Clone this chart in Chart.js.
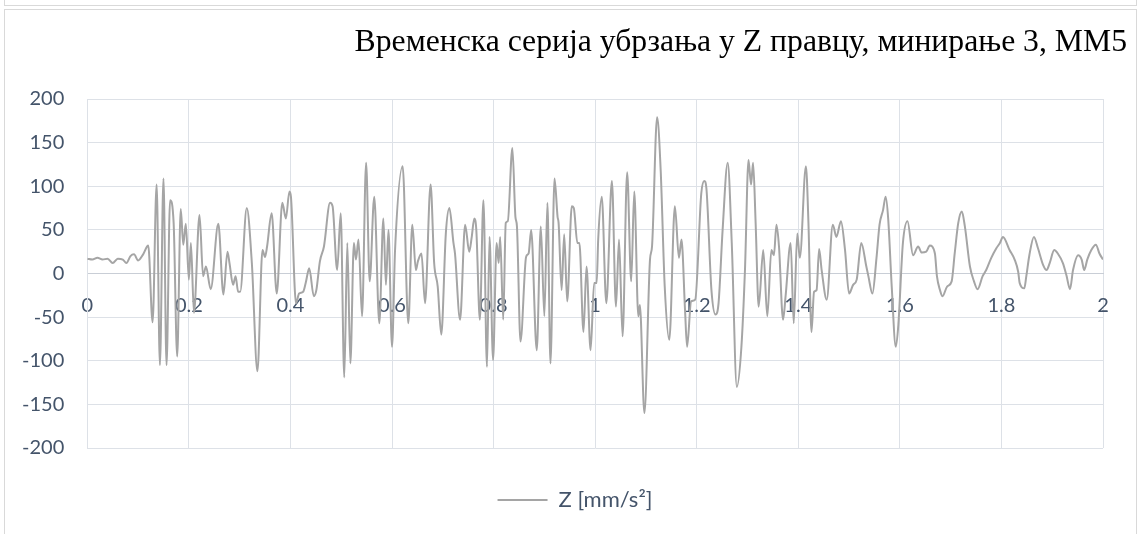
<!DOCTYPE html>
<html>
<head>
<meta charset="utf-8">
<script src="https://cdn.jsdelivr.net/npm/chart.js@4.4.1/dist/chart.umd.min.js"></script>
<style>
  html, body { margin: 0; padding: 0; background: #fff; }
  #wrap { position: relative; width: 1138px; height: 534px; overflow: hidden; }
  #topbox { position: absolute; left: 4px; top: -10px; width: 1131px; height: 14px; border: 1px solid #d9d9d9; }
  #frame { position: absolute; left: 4px; top: 9px; width: 1131px; height: 540px; border: 1px solid #d9d9d9; }
  canvas { position: absolute; left: 0; top: 0; }
</style>
</head>
<body>
<div id="wrap">
  <div id="topbox"></div>
  <div id="frame"></div>
  <canvas id="chart" width="1138" height="534"></canvas>
</div>
<script>
const chartTitle = "Временска серија убрзања у Z правцу, минирање 3, ММ5";
const seriesName = "Z [mm/s²]";

// time [s] of each read point (peaks / troughs of the trace)
const times = [
  0, 0.01, 0.02, 0.03, 0.04, 0.05, 0.06, 0.07, 0.077, 0.085, 0.092, 0.1, 0.11, 0.12,
  0.1286, 0.1365, 0.143, 0.150, 0.156, 0.163, 0.170, 0.177, 0.184, 0.189, 0.194, 0.200,
  0.204, 0.210, 0.221, 0.228, 0.2336, 0.243, 0.258, 0.268, 0.276, 0.280, 0.287, 0.292,
  0.297, 0.301, 0.314, 0.324, 0.335,
  0.345, 0.350, 0.354, 0.363, 0.373, 0.384, 0.391, 0.398, 0.401, 0.411, 0.417, 0.425,
  0.430, 0.437, 0.446, 0.451, 0.458, 0.466, 0.478, 0.483, 0.492, 0.499, 0.506, 0.512,
  0.518, 0.525, 0.529, 0.534, 0.541, 0.549, 0.556, 0.565, 0.575, 0.583, 0.588, 0.593,
  0.600, 0.606, 0.621, 0.632, 0.640, 0.647, 0.651, 0.658, 0.665, 0.676,
  0.683, 0.690, 0.697, 0.706, 0.713, 0.721, 0.724, 0.734, 0.744, 0.752, 0.757, 0.762,
  0.766, 0.773, 0.780, 0.787, 0.792, 0.799, 0.806, 0.810, 0.813, 0.819, 0.824, 0.828,
  0.837, 0.843, 0.846, 0.853, 0.864, 0.869, 0.874, 0.885, 0.893, 0.900, 0.906, 0.912,
  0.920, 0.926, 0.928, 0.934, 0.939, 0.945, 0.954, 0.958, 0.965, 0.969, 0.977, 0.983,
  0.991, 0.998, 1.003,
  1.006, 1.013, 1.022, 1.033, 1.041, 1.047, 1.054, 1.063, 1.071, 1.077, 1.085, 1.088,
  1.097, 1.108, 1.112, 1.122, 1.129, 1.137, 1.146, 1.157, 1.165, 1.170, 1.177, 1.181,
  1.189, 1.197, 1.209, 1.215, 1.219, 1.229, 1.237, 1.243, 1.251, 1.261, 1.269, 1.279,
  1.288, 1.295, 1.302, 1.307, 1.311, 1.316, 1.322, 1.331, 1.339,
  1.347, 1.352, 1.357, 1.362, 1.370, 1.375, 1.385, 1.391, 1.398, 1.403, 1.415, 1.420,
  1.426, 1.431, 1.436, 1.441, 1.446, 1.456, 1.468, 1.475, 1.484, 1.492, 1.500, 1.508,
  1.515, 1.524, 1.534, 1.538, 1.546, 1.554, 1.560, 1.567, 1.572, 1.577, 1.584, 1.592,
  1.597, 1.606, 1.615, 1.626, 1.636, 1.643, 1.652, 1.659, 1.669,
  1.673, 1.679, 1.684, 1.693, 1.702, 1.708, 1.715, 1.722, 1.728, 1.738, 1.746, 1.753,
  1.763, 1.770, 1.780, 1.790, 1.797, 1.803, 1.816, 1.826, 1.833, 1.836, 1.845, 1.849,
  1.855, 1.864, 1.872, 1.882, 1.889, 1.895, 1.904, 1.911, 1.921, 1.928, 1.935, 1.941,
  1.951, 1.958, 1.963, 1.969, 1.977, 1.986, 1.993, 2.0
];

// acceleration [mm/s²] at those times
const accel = [
  17, 16, 18, 16, 17, 12, 17, 16, 12, 20, 22, 15, 22, 32,
  -56, 102, -105, 109, -105, 84, 58, -95, 74, 33, 57, -7,
  35, -45, 67, -3, 8, -18, 57, -24, 25, 12, -13, -3,
  -21, -21, 75, 12, -112,
  27, 19, 31, 69, -23, 81, 63, 94, 88, -34, -23, -21,
  -11, 6, -26, -19, 14, 31, 81, 77, 4, 69, -119, 35,
  -103, 35, 16, 39, -49, 127, -9, 88, -57, 63, -13, 50,
  -84, 27, 123, -57, 56, 4, 14, 23, -34, 102,
  12, -15, -70, 46, 75, 35, 23, -53, 56, 25, 42, 63,
  50, -53, 84, -107, 42, -99, 35, 12, 42, -53, 58, 60,
  144, 65, 54, -78, 19, 23, 50, -88, 54, -49, 81, -103,
  109, 65, 58, -19, 45, -32, 77, 75, 35, 35, -67, 8,
  -88, -11, -11,
  39, 88, -34, 106, -38, 39, -72, 116, -9, 94, -49, -36,
  -160, 16, 31, 179, 119, -15, -76, 77, 18, 39, -42, -84,
  -32, -30, 92, 106, 98, -19, -47, -34, 50, 127, 35, -130,
  -84, 4, 130, 102, 127, 58, -38, 27, -49,
  27, 21, 56, 31, -53, -26, 35, -57, 46, 18, 123, 58,
  -67, -21, -19, 28, 4, -30, 56, 42, 60, 27, -23, -13,
  -7, 35, 8, -3, -23, 18, 56, 73, 88, 63, -15, -84,
  -59, 35, 60, 21, 31, 24, 25, 32, 23,
  -3, -19, -26, -15, -9, 23, 58, 71, 54, 8, -9, -18,
  -3, 4, 18, 29, 35, 42, 27, 16, 2, -11, -17, -3,
  21, 42, 29, 10, 4, 12, 27, 23, 12, -2, -18, 4,
  21, 16, 4, 16, 27, 33, 23, 16
];

const xTicks = [0, 0.2, 0.4, 0.6, 0.8, 1, 1.2, 1.4, 1.6, 1.8, 2];
const xTickLabels = ["0", "0.2", "0.4", "0.6", "0.8", "1", "1.2", "1.4", "1.6", "1.8", "2"];
const yTicks = [-200, -150, -100, -50, 0, 50, 100, 150, 200];
const yTickLabels = ["-200", "-150", "-100", "-50", "0", "50", "100", "150", "200"];

const labelColor = "#44546A";
const gridColor = "#DDE1E7";
const tickFont = { family: "Lato", size: 20 };

const points = times.map((t, i) => ({ x: t, y: accel[i] }));

const ctx = document.getElementById("chart").getContext("2d");
const accChart = new Chart(ctx, {
  type: "line",
  data: {
    datasets: [
      {
        label: seriesName,
        data: points,
        borderColor: "#A5A5A5",
        backgroundColor: "#A5A5A5",
        borderWidth: 2,
        pointRadius: 0,
        cubicInterpolationMode: "monotone",
        fill: false,
      },
    ],
  },
  options: {
    responsive: false,
    animation: false,
    devicePixelRatio: 1,
    layout: { padding: { left: 23, right: 11, top: 0, bottom: 13 } },
    scales: {
      x: {
        type: "linear",
        min: 0,
        max: 2,
        position: { y: 0 },
        afterBuildTicks: (scale) => {
          scale.ticks = xTicks.map((v) => ({ value: v }));
        },
        // keep the plot right edge where Excel puts it (measured from canvas edge)
        afterFit: (scale) => {
          scale.paddingRight = 35;
        },
        grid: { color: gridColor, drawTicks: false },
        border: { color: "#C9CED6" },
        ticks: {
          font: tickFont,
          color: labelColor,
          padding: 20,
          maxRotation: 0,
          autoSkip: false,
          callback: (value, index) => xTickLabels[index],
        },
      },
      y: {
        type: "linear",
        min: -200,
        max: 200,
        afterBuildTicks: (scale) => {
          scale.ticks = yTicks.map((v) => ({ value: v }));
        },
        afterFit: (scale) => {
          scale.width = 64.3;
        },
        grid: { color: gridColor, drawTicks: false },
        border: { color: gridColor },
        ticks: {
          font: tickFont,
          color: labelColor,
          padding: 23,
          callback: (value, index) => yTickLabels[index],
        },
      },
    },
    plugins: {
      title: {
        display: true,
        text: chartTitle,
        align: "end",
        color: "#000",
        font: { family: "Liberation Serif", size: 31.7, weight: "normal" },
        padding: { top: 24, bottom: 37 },
      },
      legend: {
        position: "bottom",
        labels: {
          usePointStyle: true,
          pointStyle: "line",
          pointStyleWidth: 50,
          padding: 41,
          color: labelColor,
          font: { family: "Lato", size: 22 },
        },
      },
      tooltip: { enabled: false },
    },
  },
});
</script>
</body>
</html>
